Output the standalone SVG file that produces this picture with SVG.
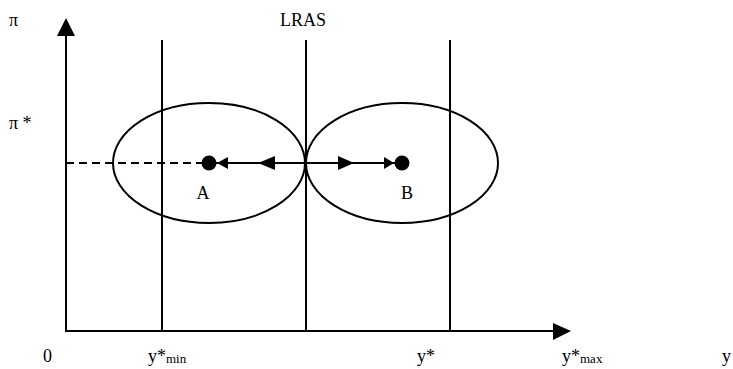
<svg xmlns="http://www.w3.org/2000/svg" width="733" height="369" viewBox="0 0 733 369">
<style>
.ln{stroke:#000;stroke-width:2;fill:none}
.t{font-family:"Liberation Serif","Noto Sans CJK SC",serif;font-size:18px;fill:#000}
.s{font-size:13px}
</style>
<rect width="733" height="369" fill="#fff"/>
<g id="axes">
<line class="ln" x1="66" y1="332" x2="66" y2="36"/>
<polygon points="66,18 57,36 75,36" fill="#000"/>
<line class="ln" x1="65" y1="331" x2="553" y2="331"/>
<polygon points="571,331 553,323 553,340" fill="#000"/>
</g>
<g id="verticals">
<line class="ln" x1="162" y1="40" x2="162" y2="331"/>
<line class="ln" x1="306" y1="40" x2="306" y2="331"/>
<line class="ln" x1="450" y1="40" x2="450" y2="331"/>
</g>
<g id="ellipseA"><ellipse class="ln" cx="209" cy="163" rx="96" ry="60"/></g>
<g id="ellipseB"><ellipse class="ln" cx="402" cy="163" rx="96" ry="60"/></g>
<g id="connectors">
<line class="ln" x1="66" y1="163" x2="205" y2="163" stroke-dasharray="8,5" stroke-width="2.5"/>
<line class="ln" x1="209" y1="163" x2="401" y2="163"/>
<polygon points="217,163 228,157 228,169" fill="#000"/>
<polygon points="258,163 275,156 275,170" fill="#000"/>
<polygon points="354,163 338,156 338,170" fill="#000"/>
<polygon points="394,163 384,157 384,169" fill="#000"/>
</g>
<g id="pointA"><circle cx="209" cy="163" r="7.5" fill="#000"/><text class="t" x="203" y="199" text-anchor="middle">A</text></g>
<g id="pointB"><circle cx="402" cy="163" r="7.5" fill="#000"/><text class="t" x="407" y="199" text-anchor="middle">B</text></g>
<g id="labels">
<text class="t" x="9" y="26">π</text>
<text class="t" x="9" y="129">π *</text>
<text class="t" x="303" y="26" text-anchor="middle">LRAS</text>
<text class="t" x="43" y="362">0</text>
<text class="t" x="148" y="362">y*<tspan class="s" dy="1">min</tspan></text>
<text class="t" x="417" y="362">y*</text>
<text class="t" x="562" y="362">y*<tspan class="s" dy="1">max</tspan></text>
<text class="t" x="722" y="362">y</text>
</g>
</svg>
